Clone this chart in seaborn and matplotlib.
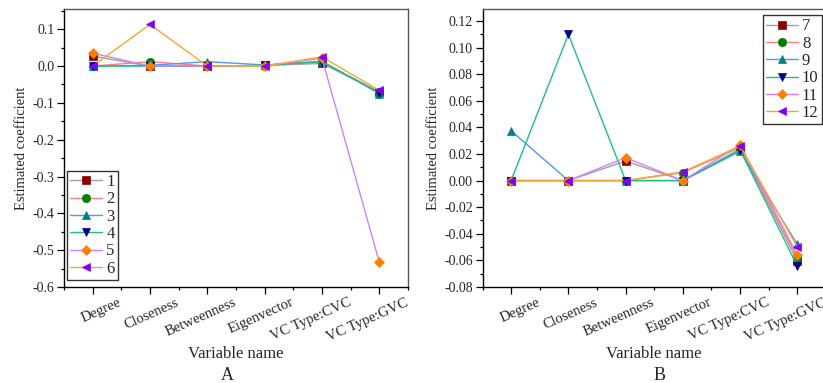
import numpy as np
import pandas as pd
import seaborn as sns
import matplotlib
matplotlib.use("Agg")
import matplotlib.pyplot as plt
from matplotlib.ticker import MultipleLocator, FixedLocator
from matplotlib.transforms import ScaledTranslation

categories = ["Degree", "Closeness", "Betweenness", "Eigenvector", "VC Type:CVC", "VC Type:GVC"]

# Panel A (series 1-6)
a_names = ["1", "2", "3", "4", "5", "6"]
a_s1 = [0.027, 0.000, 0.000, 0.002, 0.007, -0.070]
a_s2 = [0.000, 0.012, 0.000, 0.001, 0.011, -0.070]
a_s3 = [0.000, 0.002, 0.012, 0.003, 0.013, -0.075]
a_s4 = [0.000, 0.000, 0.000, 0.002, 0.012, -0.072]
a_s5 = [0.035, 0.000, 0.000, 0.001, 0.021, -0.533]
a_s6 = [0.000, 0.113, 0.000, 0.000, 0.025, -0.066]

# Panel B (series 7-12)
b_names = ["7", "8", "9", "10", "11", "12"]
b_s7 = [0.000, 0.000, 0.0147, 0.000, 0.024, -0.0605]
b_s8 = [0.000, 0.000, 0.000, 0.006, 0.025, -0.058]
b_s9 = [0.0374, 0.000, 0.000, 0.000, 0.022, -0.048]
b_s10 = [0.000, 0.110, 0.000, 0.000, 0.023, -0.0645]
b_s11 = [0.000, 0.000, 0.0172, 0.000, 0.027, -0.056]
b_s12 = [0.000, 0.000, 0.000, 0.0066, 0.026, -0.050]

markers = ["s", "o", "^", "v", "D", "<"]
marker_colors = ["#8B0000", "#008000", "#008080", "#00008B", "#FF8000", "#8000FF"]
line_colors = ["#A0A0A0", "#FF7F7F", "#4C9BEF", "#20C080", "#D080FF", "#F5A830"]
marker_sizes = [5.5, 6, 6, 6, 5, 6]

sns.set_style("ticks")
plt.rcParams["font.family"] = ["Liberation Serif", "DejaVu Serif"]
plt.rcParams["mathtext.fontset"] = "stix"

W, H = 823, 383
fig = plt.figure(figsize=(W / 100, H / 100), dpi=100)

def px_axes(x0, x1, ytop, ybot):
    return fig.add_axes([x0 / W, (H - ybot) / H, (x1 - x0) / W, (ybot - ytop) / H])

axA = px_axes(64, 408, 9, 287)
axB = px_axes(482.5, 826, 9, 287)

def draw(ax, names, series, ylim, major, minor, yfmt, legend_kw):
    for i, (nm, vals) in enumerate(zip(names, series)):
        df = pd.DataFrame({"var": categories, "coef": vals})
        sns.lineplot(data=df, x="var", y="coef", ax=ax, sort=False,
                     color=line_colors[i], linewidth=1.0,
                     marker=markers[i], markersize=marker_sizes[i],
                     markerfacecolor=marker_colors[i], markeredgecolor=marker_colors[i],
                     markeredgewidth=0.5, label=nm)
    ax.set_xlim(-0.5, 5.5)
    ax.set_ylim(*ylim)
    ax.yaxis.set_major_locator(MultipleLocator(major))
    ax.yaxis.set_minor_locator(MultipleLocator(minor))
    ax.xaxis.set_minor_locator(FixedLocator(np.arange(-0.5, 6.0, 1.0)))
    ax.yaxis.set_major_formatter(matplotlib.ticker.FormatStrFormatter(yfmt))
    ax.set_xticks(range(len(categories)))
    ax.set_xticklabels(categories, rotation=24, ha="right", va="top", fontsize=10.5)
    ax.tick_params(axis="both", which="major", direction="out", length=5, width=0.9,
                   labelsize=10, color="black", pad=2)
    ax.tick_params(axis="both", which="minor", direction="out", length=2.5, width=0.9,
                   color="black")
    ax.tick_params(axis="x", which="major", pad=1.5, labelsize=10.5)
    for s in ["left", "bottom"]:
        ax.spines[s].set_color("black")
        ax.spines[s].set_linewidth(1.0)
    for s in ["top", "right"]:
        ax.spines[s].set_visible(True)
        ax.spines[s].set_color("#555555")
        ax.spines[s].set_linewidth(1.0)
    ax.set_xlabel("Variable name", fontsize=12, labelpad=2)
    ax.set_ylabel("Estimated coefficient", fontsize=10.5, labelpad=3)
    leg = ax.legend(fontsize=12, handlelength=1.9, handletextpad=0.25,
                    labelspacing=0.08, borderpad=0.2, borderaxespad=0,
                    frameon=True, fancybox=False, numpoints=1, **legend_kw)
    leg.get_frame().set_edgecolor("black")
    leg.get_frame().set_linewidth(1.0)

draw(axA, a_names, [a_s1, a_s2, a_s3, a_s4, a_s5, a_s6], (-0.6, 0.155), 0.1, 0.05, "%.1f",
     dict(loc="lower left", bbox_to_anchor=(0.009, 0.025)))
draw(axB, b_names, [b_s7, b_s8, b_s9, b_s10, b_s11, b_s12], (-0.08, 0.129), 0.02, 0.01, "%.2f",
     dict(loc="upper right", bbox_to_anchor=(0.988, 0.978)))

fig.text(227 / W, 1 - 375 / H, "A", fontsize=13, ha="center", va="center")
fig.text(660 / W, 1 - 375 / H, "B", fontsize=13, ha="center", va="center")

# shift rotated tick labels so their upper-right end sits ~30 px right of the tick
offset = ScaledTranslation(31 / 100, 0, fig.dpi_scale_trans)
for ax in (axA, axB):
    for lab in ax.get_xticklabels():
        lab.set_transform(lab.get_transform() + offset)

fig.savefig("out.png", dpi=100)
